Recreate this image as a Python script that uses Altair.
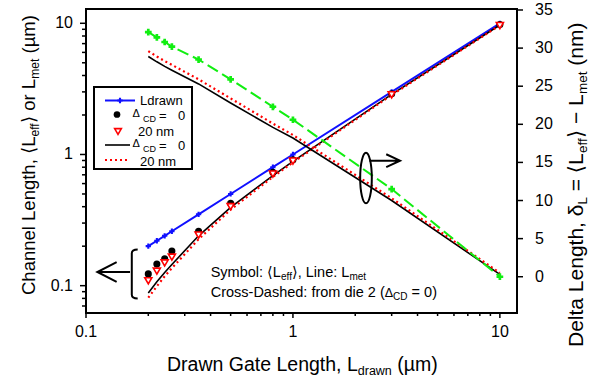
import altair as alt
import pandas as pd

# ---------------- data ----------------
L_drawn = [0.2, 0.22, 0.24, 0.26, 0.35, 0.5, 0.8, 1.0, 3.0, 10.0]
Leff_cd0 = [0.123, 0.146, 0.160, 0.184, 0.260, 0.425, 0.73, 0.91, 2.90, 9.8]
Leff_20nm = [0.109, 0.129, 0.149, 0.165, 0.243, 0.400, 0.71, 0.89, 2.85, 9.6]
Lmet_cd0 = [0.088, 0.107, 0.126, 0.145, 0.240, 0.395, 0.69, 0.885, 2.87, 9.7]
Lmet_20nm = [0.081, 0.099, 0.118, 0.136, 0.226, 0.380, 0.675, 0.87, 2.84, 9.65]
dL_cd0 = [28.9, 28.2, 27.6, 27.1, 25.3, 22.8, 19.6, 18.2, 10.0, 0.3]
dL_20nm = [29.6, 28.9, 28.3, 27.8, 25.9, 23.4, 20.1, 18.6, 10.3, 0.5]
dL_die2 = [32.1, 31.4, 30.8, 30.2, 28.5, 25.9, 22.3, 20.6, 11.5, 0.0]

x_major = [0.1, 1, 10]
x_major_labels = ["0.1", "1", "10"]
x_minor = [0.2, 0.3, 0.4, 0.5, 0.6, 0.7, 0.8, 0.9, 2, 3, 4, 5, 6, 7, 8, 9]
yl_major = [0.1, 1, 10]
yl_major_labels = ["0.1", "1", "10"]
yl_minor = [0.07, 0.08, 0.09, 0.2, 0.3, 0.4, 0.5, 0.6, 0.7, 0.8, 0.9,
            2, 3, 4, 5, 6, 7, 8, 9]
yr_ticks = [0, 5, 10, 15, 20, 25, 30, 35]

df = pd.DataFrame({
    "L": L_drawn, "Leff0": Leff_cd0, "Leff20": Leff_20nm,
    "Lmet0": Lmet_cd0, "Lmet20": Lmet_20nm,
    "d0": dL_cd0, "d20": dL_20nm, "die2": dL_die2,
})

# ---------------- layout ----------------
FONT = "Liberation Sans, Arial, DejaVu Sans"
OX, OY = 86, 9          # plot origin on page
PW, PH = 431, 304       # plot size
BLUE, RED, GREEN = "#1010ff", "#ff0000", "#11ee11"

CW = {' ': 278, '(': 333, ')': 333, ',': 278, '-': 333, '.': 278, ':': 278, '=': 584,
      'Δ': 668, 'δ': 556, 'µ': 576, '−': 584, '⟨': 400, '⟩': 400}
for c in '0123456789':
    CW[c] = 556
CW.update(dict(zip('ABCDEFGHIJKLMNOPQRSTUVWXYZ',
                   [667, 667, 722, 722, 667, 611, 778, 722, 278, 500, 667, 556, 833,
                    722, 778, 667, 778, 722, 667, 611, 722, 667, 944, 667, 667, 611])))
CW.update(dict(zip('abcdefghijklmnopqrstuvwxyz',
                   [556, 556, 500, 556, 556, 278, 556, 556, 222, 222, 500, 222, 833,
                    556, 556, 556, 556, 333, 500, 278, 556, 500, 722, 500, 500, 500])))


def tw(s, fs):
    return sum(CW.get(c, 556) for c in s) * fs / 1000.0


def rich(pieces, x0, y0, vertical=False):
    rows, pos = [], 0.0
    for txt, fs, shift in pieces:
        lead = len(txt) - len(txt.lstrip(' '))
        pos += tw(' ' * lead, fs)
        body = txt.lstrip(' ')
        if vertical:
            rows.append(dict(px=x0 + shift - OX, py=y0 - pos - OY, t=body, fs=fs, ang=270))
        else:
            rows.append(dict(px=x0 + pos - OX, py=y0 + shift - OY, t=body, fs=fs, ang=0))
        pos += tw(body, fs)
    return rows


rows = []
rows += rich([("Drawn Gate Length, L", 19.5, 0), ("drawn", 12.5, 4), (" (µm)", 19.5, 0)], 167, 371)
rows += rich([("Channel Length, ⟨L", 18.5, 0), ("eff", 12, 4), ("⟩ or L", 18.5, 0),
              ("met", 12, 4), (" (µm)", 18.5, 0)], 35, 295, vertical=True)
rows += rich([("Delta Length, δ", 21, 0), ("L", 13.5, 4), (" = ⟨L", 21, 0), ("eff", 13.5, 4),
              ("⟩ − L", 21, 0), ("met", 13.5, 4), (" (nm)", 21, 0)], 583, 347, vertical=True)
rows += rich([("Symbol: ⟨L", 14.5, 0), ("eff", 10, 3), ("⟩, Line: L", 14.5, 0), ("met", 10, 3)],
             210.7, 277)
rows += rich([("Cross-Dashed: from die 2 (", 14.5, 0), ("Δ", 12.5, 0), ("CD", 10, 3), (" = 0)", 14.5, 0)],
             210.7, 297)
# legend texts
rows += rich([("Ldrawn", 13, 0)], 140, 104.5)
rows += rich([("Δ", 11, 0)], 132.5, 117) + rich([("CD", 9, 0)], 143, 122)
rows += rich([("=", 13, 0)], 159, 120) + rich([("0", 13, 0)], 178, 120)
rows += rich([("20 nm", 13, 0)], 138, 136)
rows += rich([("Δ", 11, 0)], 132.5, 146.5) + rich([("CD", 9, 0)], 143, 151.5)
rows += rich([("=", 13, 0)], 159, 149.5) + rich([("0", 13, 0)], 178, 149.5)
rows += rich([("20 nm", 13, 0)], 140, 166)
text_df = pd.DataFrame(rows)

one = pd.DataFrame({"k": [0]})


def P(x, y):
    return dict(x=alt.value(x - OX), y=alt.value(y - OY))


def PXN(field):
    return alt.X(f"{field}:Q", scale=None, axis=None)


def PYN(field):
    return alt.Y(f"{field}:Q", scale=None, axis=None)


# ---------------- scales ----------------
xscale = alt.Scale(type="log", domain=[0.1, 12.1], nice=False)
ylscale = alt.Scale(type="log", domain=[0.0619, 12.85], nice=False)
yrscale = alt.Scale(domain=[-4.76, 35.13], nice=False, zero=False)

X = alt.X("L:Q", scale=xscale, axis=None)


def YL(field):
    return alt.Y(f"{field}:Q", scale=ylscale, axis=None)


def YR(field):
    return alt.Y(f"{field}:Q", scale=yrscale, axis=None)


base = alt.Chart(df)

left = alt.layer(
    base.mark_line(color=BLUE, strokeWidth=2).encode(x=X, y=YL("L")),
    base.mark_point(shape="cross", filled=True, size=28, color=BLUE, opacity=1).encode(x=X, y=YL("L")),
    base.mark_line(color="black", strokeWidth=1.6).encode(x=X, y=YL("Lmet0")),
    base.mark_line(color=RED, strokeWidth=2.2, strokeDash=[2, 3]).encode(x=X, y=YL("Lmet20")),
    base.mark_point(shape="circle", filled=True, size=50, color="black", opacity=1).encode(x=X, y=YL("Leff0")),
    base.mark_point(shape="triangle-down", filled=True, size=50, fill="white", stroke=RED,
                    strokeWidth=1.6, opacity=1).encode(x=X, y=YL("Leff20")),
)

right = alt.layer(
    base.mark_line(color="black", strokeWidth=1.6).encode(x=X, y=YR("d0")),
    base.mark_line(color=RED, strokeWidth=2.2, strokeDash=[2, 3]).encode(x=X, y=YR("d20")),
    base.mark_line(color=GREEN, strokeWidth=2, strokeDash=[12, 5]).encode(x=X, y=YR("die2")),
    base.mark_point(shape="cross", filled=True, size=45, color=GREEN, opacity=1).encode(x=X, y=YR("die2")),
)

# ---------------- axes built from the tick lists ----------------
yl_tick_df = pd.DataFrame({"v": yl_major + yl_minor,
                           "x0": [0] * (len(yl_major) + len(yl_minor)),
                           "x1": [-6] * len(yl_major) + [-4] * len(yl_minor)})
yl_lab_df = pd.DataFrame({"v": yl_major, "lab": yl_major_labels, "xp": [-13] * len(yl_major)})
yl_axis = alt.layer(
    alt.Chart(yl_tick_df).mark_rule(color="black", strokeWidth=1.5).encode(
        y=YL("v"), x=PXN("x0"), x2="x1:Q"),
    alt.Chart(yl_lab_df).mark_text(align="right", baseline="middle", font=FONT, fontSize=16,
                                   color="black").encode(y=YL("v"), x=PXN("xp"), text="lab:N"),
)

yr_tick_df = pd.DataFrame({"v": yr_ticks, "x0": [PW] * len(yr_ticks), "x1": [PW + 6] * len(yr_ticks),
                           "xp": [449] * len(yr_ticks), "lab": [str(t) for t in yr_ticks]})
yr_axis = alt.layer(
    alt.Chart(yr_tick_df).mark_rule(color="black", strokeWidth=1.5).encode(
        y=YR("v"), x=PXN("x0"), x2="x1:Q"),
    alt.Chart(yr_tick_df).mark_text(align="left", baseline="middle", font=FONT, fontSize=16,
                                    color="black").encode(y=YR("v"), x=PXN("xp"), text="lab:N"),
)

x_tick_df = pd.DataFrame({"v": x_major + x_minor,
                          "y0": [PH] * (len(x_major) + len(x_minor)),
                          "y1": [PH + 5] * len(x_major) + [PH + 3] * len(x_minor)})
x_lab_df = pd.DataFrame({"v": x_major, "lab": x_major_labels, "yp": [328] * len(x_major)})

ann = alt.Chart(one)
ellipse = "M 0 -1 A 0.23 1 0 1 1 0 1 A 0.23 1 0 1 1 0 -1 Z"
arrow_r = "M -1 0 L 1 0 M 0.1 -0.42 L 1 0 L 0.1 0.42"
arrow_l = "M 1 0 L -1 0 M 0.18 -0.6 L -1 0 L 0.18 0.6"
bracket = "M 0.15 -1 Q -0.09 -1 -0.09 -0.85 L -0.09 0.85 Q -0.09 1 0.15 1"

annotations = alt.layer(
    alt.Chart(x_tick_df).mark_rule(color="black", strokeWidth=1.5).encode(
        x=alt.X("v:Q", scale=xscale, axis=None), y=PYN("y0"), y2="y1:Q"),
    alt.Chart(x_lab_df).mark_text(align="center", baseline="alphabetic", font=FONT, fontSize=16,
                                  color="black").encode(
        x=alt.X("v:Q", scale=xscale, axis=None), y=PYN("yp"), text="lab:N"),
    ann.mark_point(shape=ellipse, size=2560, filled=False, color="black", strokeWidth=2, opacity=1).encode(**P(366, 178)),
    ann.mark_point(shape=arrow_r, size=942, filled=False, color="black", strokeWidth=2, opacity=1).encode(**P(384.7, 160.7)),
    ann.mark_point(shape=arrow_l, size=1069, filled=False, color="black", strokeWidth=2, opacity=1).encode(**P(113.7, 272)),
    ann.mark_point(shape=bracket, size=2401, filled=False, color="black", strokeWidth=2, opacity=1).encode(**P(134, 274)),
    # legend box and symbols
    ann.mark_rect(fill="white", stroke="black", strokeWidth=2).encode(
        x=alt.value(94 - OX), x2=alt.value(192 - OX), y=alt.value(87 - OY), y2=alt.value(169 - OY)),
    ann.mark_rule(color=BLUE, strokeWidth=2).encode(
        x=alt.value(105 - OX), x2=alt.value(135 - OX), y=alt.value(100.5 - OY)),
    ann.mark_point(shape="cross", filled=True, size=28, color=BLUE, opacity=1).encode(**P(120, 100.5)),
    ann.mark_point(shape="circle", filled=True, size=45, color="black", opacity=1).encode(**P(117, 114.5)),
    ann.mark_point(shape="triangle-down", filled=True, size=45, fill="white", stroke=RED,
                   strokeWidth=1.6, opacity=1).encode(**P(118, 131.5)),
    ann.mark_rule(color="black", strokeWidth=1.6).encode(
        x=alt.value(105 - OX), x2=alt.value(130 - OX), y=alt.value(145 - OY)),
    ann.mark_rule(color=RED, strokeWidth=2.2, strokeDash=[2, 3]).encode(
        x=alt.value(105 - OX), x2=alt.value(130 - OX), y=alt.value(160 - OY)),
    alt.Chart(text_df).mark_text(align="left", baseline="alphabetic", font=FONT, color="black").encode(
        x=PXN("px"), y=PYN("py"),
        text="t:N", size=alt.Size("fs:Q", scale=None, legend=None),
        angle=alt.Angle("ang:Q", scale=None, legend=None)),
)

chart = alt.layer(left, right, yl_axis, yr_axis, annotations).resolve_scale(y="independent").properties(
    width=PW, height=PH,
    autosize=alt.AutoSizeParams(type="none"),
    padding={"left": OX, "top": OY, "right": 597 - OX - PW, "bottom": 378 - OY - PH},
    background="white",
).configure_view(stroke="black", strokeWidth=2)

chart.save("out.html", embed_options={"renderer": "svg", "actions": False})
